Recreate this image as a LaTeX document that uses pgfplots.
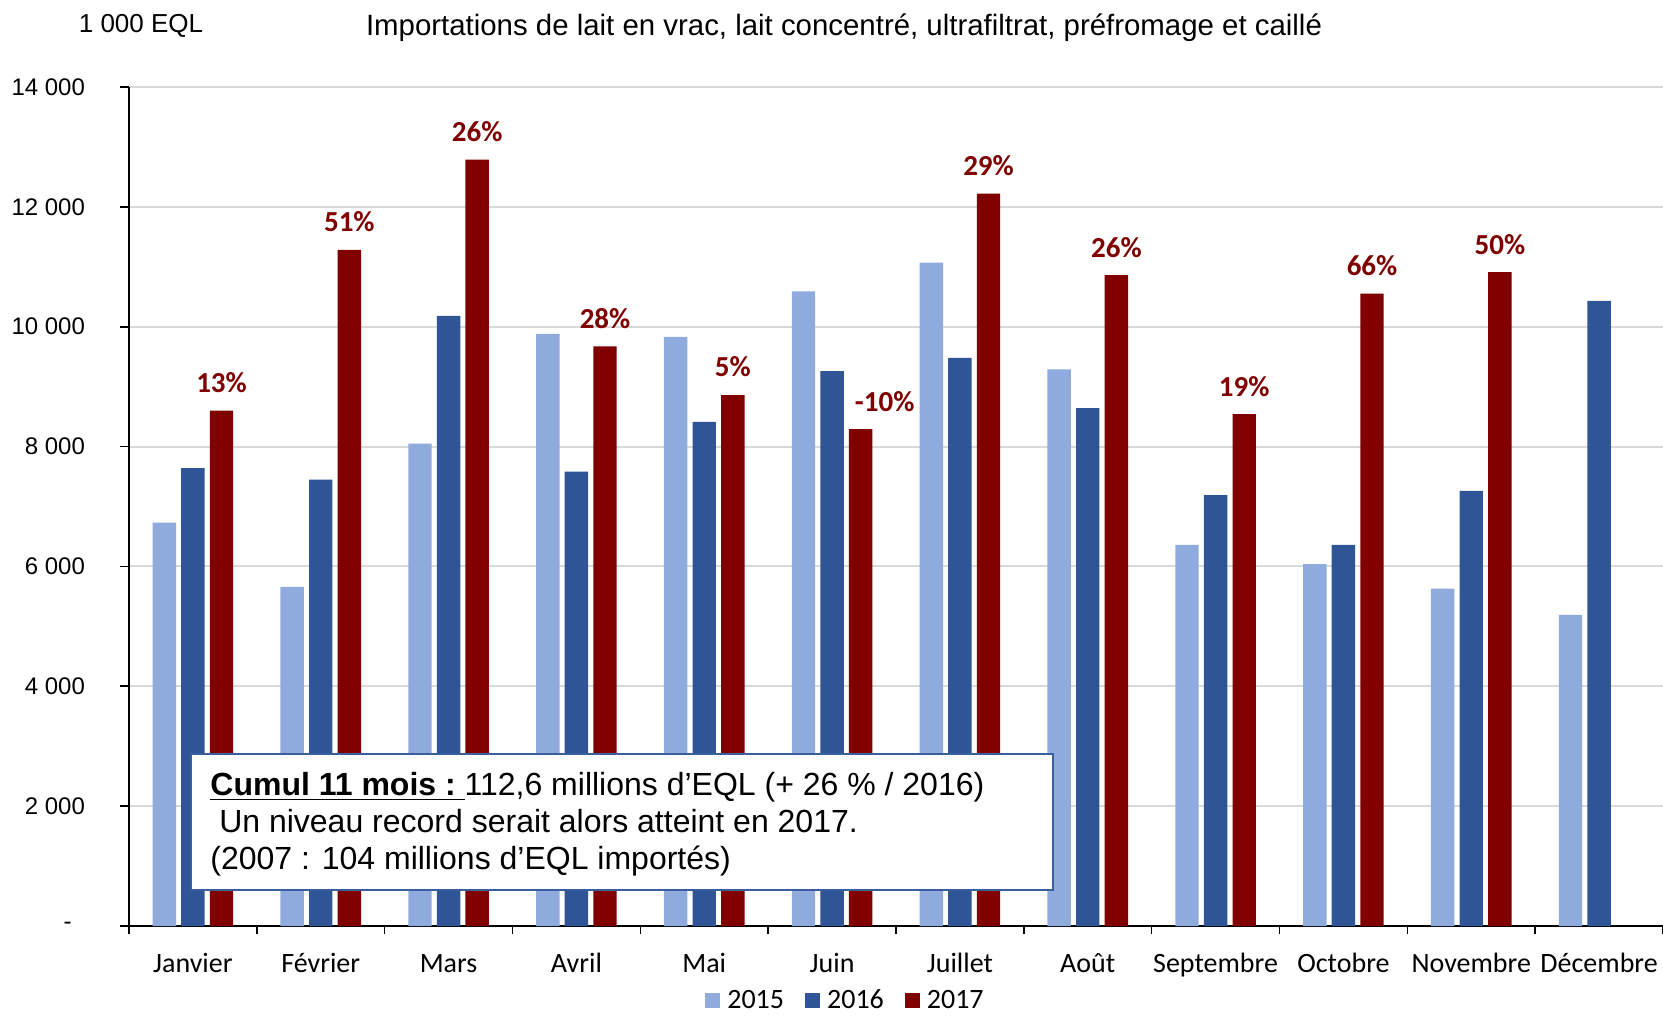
\documentclass[border=0pt]{standalone}
\usepackage{fontspec}
\setmainfont{Liberation Sans}
\newfontfamily\calibri{Carlito}
\usepackage{pgfplots}
\pgfplotsset{compat=1.18}
\definecolor{c15}{HTML}{8FAADC}
\definecolor{c16}{HTML}{2F5597}
\definecolor{c17}{HTML}{800000}
\definecolor{boxblue}{HTML}{3B5E9E}
\definecolor{gridgray}{HTML}{D9D9D9}
\begin{document}
\begin{tikzpicture}
\begin{axis}[
  scale only axis, width=767pt, height=419.5pt,
  ybar=2.6pt, bar width=11.7pt,
  xmin=-0.5, xmax=11.5, ymin=0, ymax=14000,
  scaled y ticks=false,
  axis x line*=bottom, axis y line*=left,
  axis line style={line width=1pt, black},
  tick align=outside,
  xtick={0,...,11},
  xticklabels={Janvier,Février,Mars,Avril,Mai,Juin,Juillet,Août,Septembre,Octobre,Novembre,Décembre},
  major x tick style={draw=none},
  minor xtick={-0.5,0.5,...,11.5},
  minor tick length=4pt, major tick length=4.5pt,
  every tick/.style={black, line width=0.8pt},
  xticklabel style={font=\calibri\fontsize{14}{16}\selectfont, anchor=base, yshift=-18.5pt},
  ytick={0,2000,...,14000},
  yticklabels={-\hphantom{0},2 000,4 000,6 000,8 000,10 000,12 000,14 000},
  yticklabel style={font=\fontsize{12}{14}\selectfont, anchor=east, xshift=-14pt},
  ymajorgrids, grid style={gridgray, line width=1pt},
  legend columns=3,
  legend style={at={(0.4687,-0.089)}, anchor=center, draw=none, fill=none,
    font=\calibri\fontsize{14}{16}\selectfont, inner sep=0pt,
    nodes={inner xsep=3.5pt, inner ysep=0pt},
    /tikz/every even column/.append style={column sep=7pt}},
  legend image code/.code={\fill[#1] (-1pt,-3.5pt) rectangle (6.5pt,4pt);},
]
\addplot[fill=c15, draw=none] coordinates {
  (0,6730) (1,5660) (2,8050) (3,9880) (4,9830) (5,10590)
  (6,11070) (7,9290) (8,6360) (9,6040) (10,5630) (11,5190)};
\addlegendentry{2015}
\addplot[fill=c16, draw=none] coordinates {
  (0,7640) (1,7450) (2,10180) (3,7580) (4,8410) (5,9260)
  (6,9480) (7,8640) (8,7190) (9,6360) (10,7260) (11,10430)};
\addlegendentry{2016}
\addplot[fill=c17, draw=none, nodes near coords, point meta=explicit symbolic,
  every node near coord/.append style={anchor=center, yshift=14pt,
    font=\calibri\bfseries\fontsize{14.5}{16}\selectfont, text=c17}] coordinates {
  (0,8600)[13\%] (1,11280)[51\%] (2,12790)[26\%] (3,9670)[28\%]
  (4,8860)[5\%] (5,8290)[\hspace*{24pt}-10\%] (6,12220)[29\%] (7,10860)[26\%]
  (8,8540)[19\%] (9,10550)[66\%] (10,10910)[50\%]};
\addlegendentry{2017}
\end{axis}
\draw[boxblue, line width=1.3pt, fill=white] (31pt,18pt) rectangle (462pt,86pt);
\node[anchor=base west, inner sep=0pt, font=\fontsize{16}{19}\selectfont] at (40.5pt,65pt)
  {\underline{\textbf{Cumul 11 mois :\ }}112,6 millions d’EQL (+ 26 \% / 2016)};
\node[anchor=base west, inner sep=0pt, font=\fontsize{16}{19}\selectfont] at (40.5pt,46.5pt)
  {\ Un niveau record serait alors atteint en 2017.};
\node[anchor=base west, inner sep=0pt, font=\fontsize{16}{19}\selectfont] at (40.5pt,28pt)
  {(2007 : 104 millions d’EQL importés)};
\node[font=\fontsize{14.7}{17}\selectfont] at (357.5pt,449pt)
  {Importations de lait en vrac, lait concentré, ultrafiltrat, préfromage et caillé};
\node[font=\fontsize{13}{15}\selectfont] at (6pt,450pt) {1 000 EQL};
\pgfresetboundingbox
\path[use as bounding box] (-64.5pt,-45pt) rectangle (767pt,463pt);
\end{tikzpicture}
\end{document}
